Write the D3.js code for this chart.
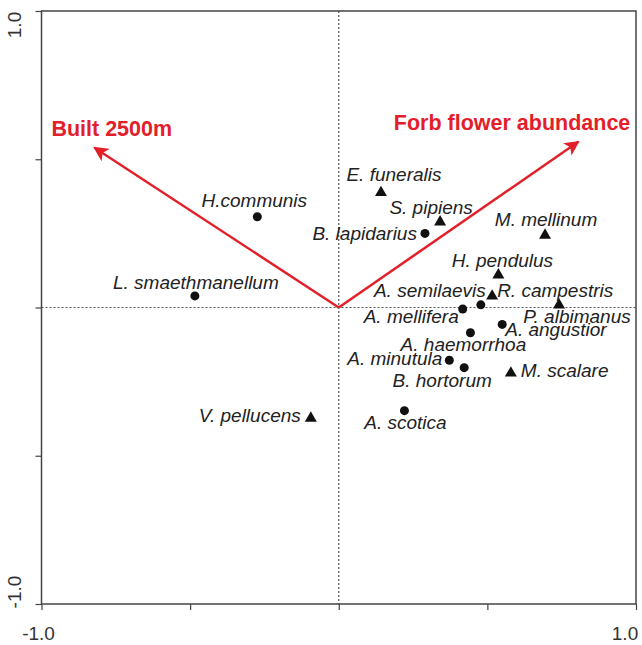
<!DOCTYPE html>
<html>
<head>
<meta charset="utf-8">
<script src="https://cdn.jsdelivr.net/npm/d3@7"></script>
<style>
    body { margin: 0; background: #fff; }
    text { font-family: "Liberation Sans", Arial, sans-serif; }
</style>
</head>
<body>
<svg id="vis-svg"></svg>
<script>
// species scores on the two ordination axes
const species = ["H.communis", "L. smaethmanellum", "V. pellucens", "E. funeralis", "S. pipiens",
    "B. lapidarius", "M. mellinum", "H. pendulus", "R. campestris", "A. semilaevis", "A. mellifera",
    "P. albimanus", "A. angustior", "A. haemorrhoa", "A. minutula", "B. hortorum", "M. scalare", "A. scotica"];
const axis1 = [-0.274, -0.484, -0.094, 0.142, 0.341, 0.290, 0.694, 0.537, 0.516, 0.478, 0.417,
    0.741, 0.550, 0.443, 0.372, 0.422, 0.579, 0.221];
const axis2 = [0.306, 0.039, -0.370, 0.391, 0.292, 0.250, 0.247, 0.113, 0.042, 0.009, -0.005,
    0.012, -0.057, -0.085, -0.178, -0.203, -0.218, -0.348];
const groups = ["bee", "bee", "fly", "fly", "fly", "bee", "fly", "fly", "fly", "bee", "bee",
    "fly", "bee", "bee", "bee", "bee", "fly", "bee"];

// environmental arrows
const envNames = ["Built 2500m", "Forb flower abundance"];
const envX = [-0.822, 0.806];
const envY = [0.539, 0.559];

const tickValues = [-1, -0.5, 0, 0.5, 1];

// label placement relative to each point: [dx, dy, anchor]
const labelPos = {
    "H.communis": [-3, -10, "middle"],
    "L. smaethmanellum": [1, -7, "middle"],
    "V. pellucens": [-10, 5, "end"],
    "E. funeralis": [13, -11, "middle"],
    "S. pipiens": [-9, -7, "middle"],
    "B. lapidarius": [-8, 7, "end"],
    "M. mellinum": [1, -8, "middle"],
    "H. pendulus": [4, -7, "middle"],
    "R. campestris": [5, 2, "start"],
    "A. semilaevis": [5, -8, "end"],
    "A. mellifera": [-4, 14, "end"],
    "P. albimanus": [18, 19, "middle"],
    "A. angustior": [3, 12, "start"],
    "A. haemorrhoa": [-7, 18, "middle"],
    "A. minutula": [-7, 5, "end"],
    "B. hortorum": [-22, 19, "middle"],
    "M. scalare": [10, 5, "start"],
    "A. scotica": [1, 18, "middle"]
};

const width = 642, height = 645;
const svg = d3.select("#vis-svg")
    .attr("width", width)
    .attr("height", height);

const x = d3.scaleLinear().domain([-1, 1]).range([41.5, 636]);
const y = d3.scaleLinear().domain([-1, 1]).range([604, 11]);

const axisColor = "#444";
const red = "#e3202a";

// zero lines
svg.append("line")
    .attr("x1", x(0)).attr("x2", x(0))
    .attr("y1", y(1)).attr("y2", y(-1))
    .attr("stroke", "#555").attr("stroke-width", 1.2)
    .attr("stroke-dasharray", "2,2");
svg.append("line")
    .attr("x1", x(-1)).attr("x2", x(1))
    .attr("y1", y(0)).attr("y2", y(0))
    .attr("stroke", "#555").attr("stroke-width", 1.2)
    .attr("stroke-dasharray", "2,2");

// box
svg.append("rect")
    .attr("x", x(-1)).attr("y", y(1))
    .attr("width", x(1) - x(-1))
    .attr("height", y(-1) - y(1))
    .attr("fill", "none")
    .attr("stroke", axisColor)
    .attr("stroke-width", 1.5);

// axes with ticks only, end labels drawn separately
const xAxis = d3.axisBottom(x).tickValues(tickValues).tickSize(6).tickFormat("");
const yAxis = d3.axisLeft(y).tickValues(tickValues).tickSize(6).tickFormat("");

svg.append("g")
    .attr("transform", `translate(0, ${y(-1)})`)
    .call(xAxis)
    .call(g => g.select(".domain").remove())
    .call(g => g.selectAll("line").attr("stroke", axisColor).attr("stroke-width", 1.2));

svg.append("g")
    .attr("transform", `translate(${x(-1)}, 0)`)
    .call(yAxis)
    .call(g => g.select(".domain").remove())
    .call(g => g.selectAll("line").attr("stroke", axisColor).attr("stroke-width", 1.2));

// tick labels at the ends
svg.append("text").attr("x", x(-1) - 3).attr("y", 640)
    .attr("text-anchor", "middle").attr("font-size", 19).attr("fill", "#333").text("-1.0");
svg.append("text").attr("x", x(1) - 11).attr("y", 640)
    .attr("text-anchor", "middle").attr("font-size", 19).attr("fill", "#333").text("1.0");
svg.append("text")
    .attr("transform", `translate(21, ${y(1) + 14}) rotate(-90)`)
    .attr("text-anchor", "middle").attr("font-size", 19).attr("fill", "#333").text("1.0");
svg.append("text")
    .attr("transform", `translate(21, ${y(-1) - 12}) rotate(-90)`)
    .attr("text-anchor", "middle").attr("font-size", 19).attr("fill", "#333").text("-1.0");

// arrowhead
svg.append("defs").append("marker")
    .attr("id", "arrow")
    .attr("viewBox", "0 0 10 10")
    .attr("refX", 9).attr("refY", 5)
    .attr("markerWidth", 6).attr("markerHeight", 6)
    .attr("markerUnits", "strokeWidth")
    .attr("orient", "auto")
    .append("path")
    .attr("d", "M0,0 L10,5 L0,10 L2.5,5 Z")
    .attr("fill", red);

const env = envNames.map((n, i) => ({name: n, x: envX[i], y: envY[i]}));

svg.selectAll("line.env")
    .data(env)
    .enter()
        .append("line")
        .attr("class", "env")
        .attr("x1", x(0)).attr("y1", y(0))
        .attr("x2", d => x(d.x)).attr("y2", d => y(d.y))
        .attr("stroke", red)
        .attr("stroke-width", 2.5)
        .attr("marker-end", "url(#arrow)");

svg.selectAll("text.env")
    .data(env)
    .enter()
        .append("text")
        .attr("class", "env")
        .attr("x", d => d.x < 0 ? x(d.x) - 43 : x(d.x) + 52)
        .attr("y", d => y(d.y) - 12)
        .attr("text-anchor", d => d.x < 0 ? "start" : "end")
        .attr("font-size", 21.5)
        .attr("font-weight", "bold")
        .attr("fill", red)
        .text(d => d.name);

// species points
const pts = species.map((s, i) => ({name: s, x: axis1[i], y: axis2[i], group: groups[i]}));

const tri = d3.symbol().type(d3.symbolTriangle).size(62);

svg.selectAll("circle.sp")
    .data(pts.filter(d => d.group === "bee"))
    .enter()
        .append("circle")
        .attr("class", "sp")
        .attr("cx", d => x(d.x))
        .attr("cy", d => y(d.y))
        .attr("r", 4.5)
        .attr("fill", "#111");

svg.selectAll("path.sp")
    .data(pts.filter(d => d.group === "fly"))
    .enter()
        .append("path")
        .attr("class", "sp")
        .attr("d", tri)
        .attr("transform", d => `translate(${x(d.x)}, ${y(d.y) + 1})`)
        .attr("fill", "#111");

svg.selectAll("text.sp")
    .data(pts)
    .enter()
        .append("text")
        .attr("class", "sp")
        .attr("x", d => x(d.x) + labelPos[d.name][0])
        .attr("y", d => y(d.y) + labelPos[d.name][1])
        .attr("text-anchor", d => labelPos[d.name][2])
        .attr("font-size", 19)
        .attr("font-style", "italic")
        .attr("fill", "#222")
        .text(d => d.name);
</script>
</body>
</html>
